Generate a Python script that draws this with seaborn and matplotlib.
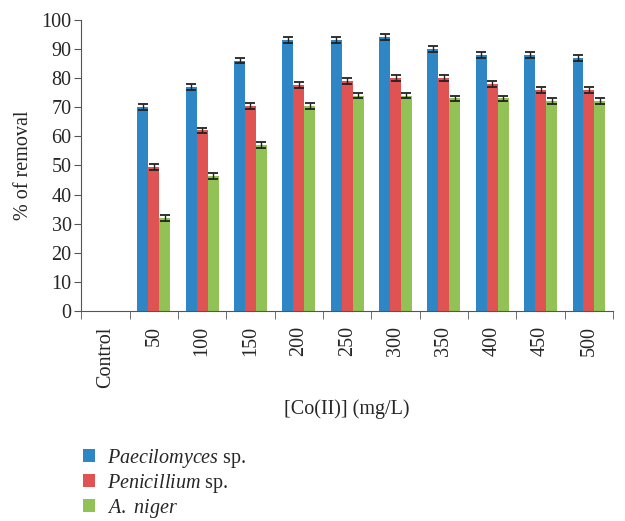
import matplotlib
matplotlib.use("Agg")
import matplotlib.pyplot as plt
import numpy as np
import pandas as pd
import seaborn as sns

# concentrations of Co(II), mg/L
conc = ["Control", "50", "100", "150", "200", "250", "300", "350", "400", "450", "500"]
paecilomyces = [0, 70, 77, 86, 93, 93, 94, 90, 88, 88, 87]
penicillium = [0, 49.5, 62, 70.5, 77.5, 79, 80, 80, 78, 76, 76]
aniger = [0, 32, 46.5, 57, 70.5, 74, 74, 73, 73, 72, 72]
err = 1.0

series = ["$\\it{Paecilomyces}$ sp.", "$\\it{Penicillium}$ sp.", "$\\it{A.}$ $\\it{niger}$"]
colors = ["#2E86C5", "#E05353", "#92C155"]

sns.set_style("ticks")
plt.rcParams["font.family"] = ["Liberation Serif", "DejaVu Serif"]
plt.rcParams["mathtext.fontset"] = "custom"
plt.rcParams["mathtext.it"] = "Liberation Serif:italic"
plt.rcParams["mathtext.rm"] = "Liberation Serif"

df = pd.DataFrame({
    "conc": conc * 3,
    "removal": paecilomyces + penicillium + aniger,
    "fungus": [series[0]] * len(conc) + [series[1]] * len(conc) + [series[2]] * len(conc),
})

fs = 14.5
fig = plt.figure(figsize=(6.25, 5.21), dpi=100)
ax = fig.add_axes([0.13, 0.403, 0.851, 0.559])
sns.barplot(data=df, x="conc", y="removal", hue="fungus", order=conc,
            hue_order=series, palette=colors, width=0.68, errorbar=None,
            saturation=1, linewidth=0, ax=ax, legend=True)

# error bars on top of each bar
for p in ax.patches:
    h = p.get_height()
    if h > 0:
        ax.errorbar(p.get_x() + p.get_width() / 2, h, yerr=err, color="#222222",
                    capsize=3.5, elinewidth=1, capthick=1.3)

ax.set_ylim(0, 100)
ax.set_yticks(range(0, 101, 10))
ax.set_xlim(-0.5, len(conc) - 0.5)
ax.set_xticks(np.arange(-0.5, len(conc)), minor=True)
ax.tick_params(axis="x", which="major", length=0, rotation=90, labelsize=fs, pad=11)
ax.tick_params(axis="x", which="minor", length=6, color="#555555")
ax.tick_params(axis="y", labelsize=fs, length=5, color="#555555", pad=2)
sns.despine(ax=ax)
for s in ["left", "bottom"]:
    ax.spines[s].set_color("#555555")
ax.set_ylabel("% of removal", fontsize=fs, labelpad=6)
ax.set_xlabel("[Co(II)] (mg/L)", fontsize=fs, labelpad=8)

handles, labels = ax.get_legend_handles_labels()
ax.legend_.remove()
fig.legend(handles, labels, loc="upper left", bbox_to_anchor=(0.12, 0.158),
           frameon=False, fontsize=fs, handlelength=0.6, handleheight=0.6,
           labelspacing=0.1, handletextpad=0.6, borderaxespad=0)

fig.savefig("out.png", dpi=100)
